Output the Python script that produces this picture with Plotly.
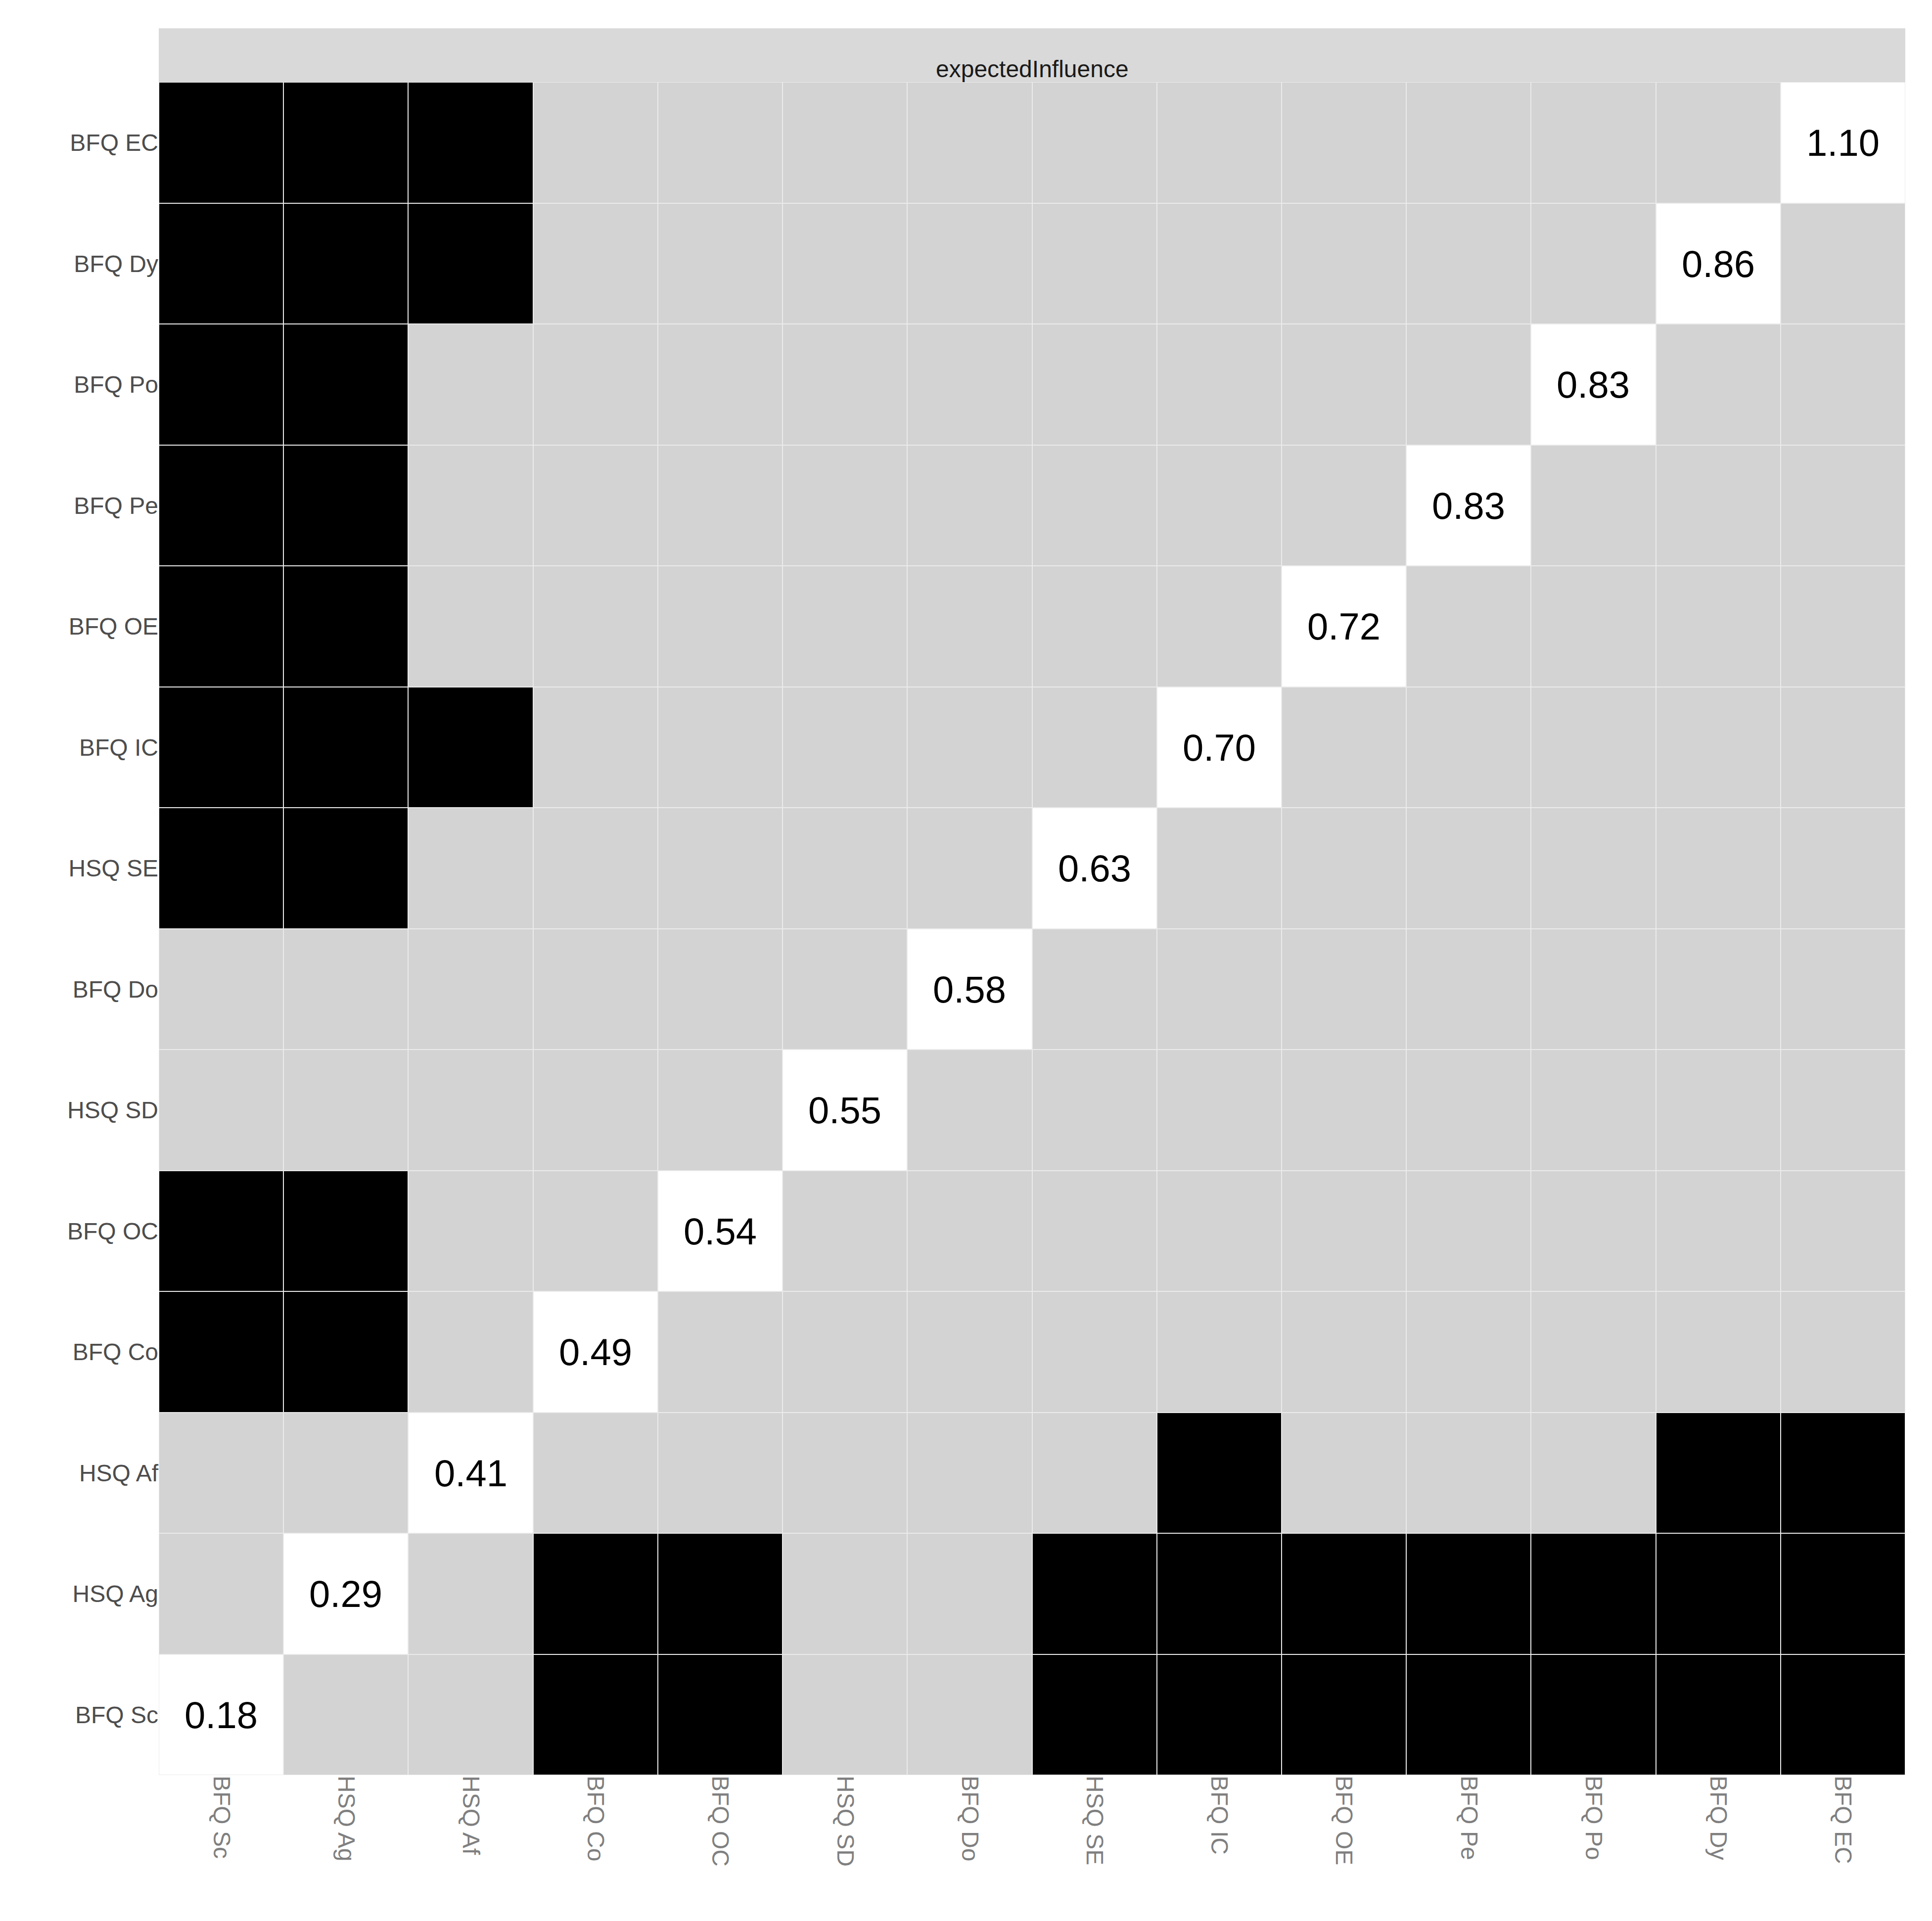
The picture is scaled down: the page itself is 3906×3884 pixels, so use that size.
import plotly.graph_objects as go

nodes = ["BFQ Sc", "HSQ Ag", "HSQ Af", "BFQ Co", "BFQ OC", "HSQ SD", "BFQ Do",
         "HSQ SE", "BFQ IC", "BFQ OE", "BFQ Pe", "BFQ Po", "BFQ Dy", "BFQ EC"]
influence = [0.18, 0.29, 0.41, 0.49, 0.54, 0.55, 0.58, 0.63, 0.70, 0.72, 0.83, 0.83, 0.86, 1.10]

# pairs of nodes whose expected influence differs significantly (black cells)
sig_pairs = [
    ("BFQ EC", "BFQ Sc"), ("BFQ EC", "HSQ Ag"), ("BFQ EC", "HSQ Af"),
    ("BFQ Dy", "BFQ Sc"), ("BFQ Dy", "HSQ Ag"), ("BFQ Dy", "HSQ Af"),
    ("BFQ Po", "BFQ Sc"), ("BFQ Po", "HSQ Ag"),
    ("BFQ Pe", "BFQ Sc"), ("BFQ Pe", "HSQ Ag"),
    ("BFQ OE", "BFQ Sc"), ("BFQ OE", "HSQ Ag"),
    ("BFQ IC", "BFQ Sc"), ("BFQ IC", "HSQ Ag"), ("BFQ IC", "HSQ Af"),
    ("HSQ SE", "BFQ Sc"), ("HSQ SE", "HSQ Ag"),
    ("BFQ OC", "BFQ Sc"), ("BFQ OC", "HSQ Ag"),
    ("BFQ Co", "BFQ Sc"), ("BFQ Co", "HSQ Ag"),
]

n = len(nodes)
z = [[0] * n for _ in range(n)]
for a, b in sig_pairs:
    i, j = nodes.index(a), nodes.index(b)
    z[i][j] = 1
    z[j][i] = 1
text = [["" for _ in range(n)] for _ in range(n)]
for i in range(n):
    z[i][i] = 2
    text[i][i] = f"{influence[i]:.2f}"

fig = go.Figure(go.Heatmap(
    z=z, x=nodes, y=nodes, text=text, texttemplate="%{text}",
    textfont=dict(size=76, color="black", family="Liberation Sans"),
    colorscale=[[0, "#d3d3d3"], [0.333, "#d3d3d3"], [0.334, "black"], [0.666, "black"],
                [0.667, "white"], [1, "white"]],
    zmin=0, zmax=2, showscale=False, xgap=2, ygap=2, hoverinfo="skip",
))

fig.update_layout(
    width=3906, height=3884,
    paper_bgcolor="white", plot_bgcolor="#ebebeb",
    margin=dict(l=313, r=62, t=158, b=303),
    font=dict(family="Liberation Sans", color="#4d4d4d"),
    xaxis=dict(tickangle=90, tickfont=dict(size=48, color="#7f7f7f"), showgrid=False,
               ticks="", ticklen=0, constrain="domain"),
    yaxis=dict(tickfont=dict(size=48, color="#4d4d4d"), showgrid=False, ticks=""),
)
fig.add_shape(type="rect", xref="paper", yref="paper", x0=0, x1=1, y0=1, y1=1.0318,
              fillcolor="#d9d9d9", line_width=0)
fig.add_annotation(xref="paper", yref="paper", x=0.5, y=1.016, text="expectedInfluence",
                   showarrow=False, font=dict(size=48, color="#1a1a1a"))

fig.write_html("out.html")
